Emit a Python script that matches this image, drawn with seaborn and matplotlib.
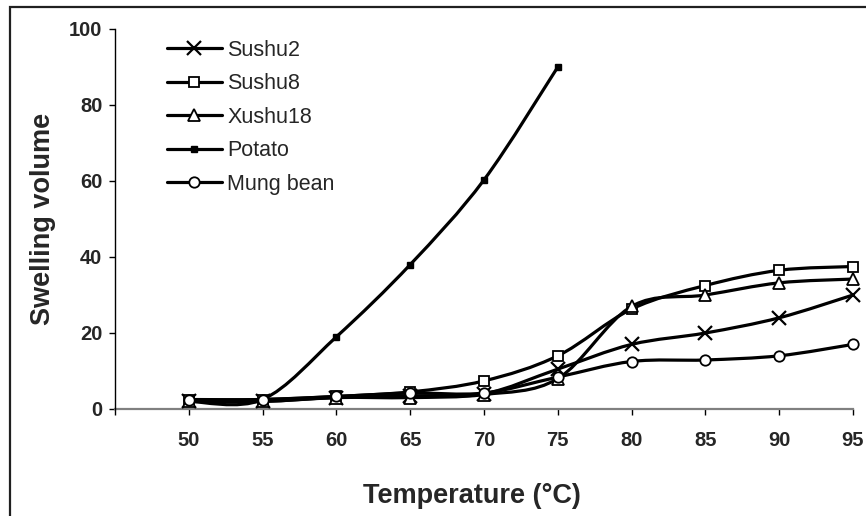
import numpy as np
import pandas as pd
import matplotlib
matplotlib.use("Agg")
import matplotlib.pyplot as plt
from matplotlib.path import Path
from matplotlib.patches import PathPatch, Rectangle
from matplotlib.lines import Line2D
import seaborn as sns

# ---- data ----
temps = [50, 55, 60, 65, 70, 75, 80, 85, 90, 95]
potato_temps = [50, 55, 60, 65, 70, 75]
sushu2 = [2.0, 2.0, 3.0, 3.5, 4.0, 10.5, 17.0, 20.0, 24.0, 30.0]
sushu8 = [2.5, 2.5, 3.3, 4.5, 7.4, 14.0, 26.3, 32.5, 36.5, 37.5]
xushu18 = [2.0, 2.0, 3.0, 3.0, 3.8, 8.0, 27.0, 30.0, 33.2, 34.2]
potato = [2.0, 2.5, 19.0, 38.0, 60.3, 90.0]
mung_bean = [2.3, 2.5, 3.3, 4.2, 4.2, 8.4, 12.5, 12.9, 14.0, 17.0]

series_names = ["Sushu2", "Sushu8", "Xushu18", "Potato", "Mung bean"]
x_ticks = [45, 50, 55, 60, 65, 70, 75, 80, 85, 90, 95]
x_tick_labels = ["", "50", "55", "60", "65", "70", "75", "80", "85", "90", "95"]
y_ticks = [0, 20, 40, 60, 80, 100]

sns.set_theme(style="white")
plt.rcParams["font.family"] = ["Liberation Sans", "DejaVu Sans"]

W, H = 866, 516
fig = plt.figure(figsize=(W / 100, H / 100), dpi=100)
ax = fig.add_axes([115 / W, 1 - 409 / H, (853 - 115) / W, (409 - 29) / H])

def smooth_path(xs, ys):
    """Excel-like smoothed line: cubic Bezier segments (Catmull-Rom tangents)."""
    pts = np.column_stack([xs, ys]).astype(float)
    n = len(pts)
    verts = [pts[0]]
    codes = [Path.MOVETO]
    for i in range(n - 1):
        p0 = pts[i - 1] if i > 0 else pts[i]
        p1 = pts[i]
        p2 = pts[i + 1]
        p3 = pts[i + 2] if i + 2 < n else pts[i + 1]
        c1 = p1 + (p2 - p0) / 6.0
        c2 = p2 - (p3 - p1) / 6.0
        verts += [c1, c2, p2]
        codes += [Path.CURVE4] * 3
    return Path(verts, codes)

styles = {
    "Sushu2": dict(marker="x", ms=10, mfc="black", mec="black", mew=1.6),
    "Sushu8": dict(marker="s", ms=7.5, mfc="white", mec="black", mew=1.3),
    "Xushu18": dict(marker="^", ms=8.5, mfc="white", mec="black", mew=1.3),
    "Potato": dict(marker="s", ms=5, mfc="black", mec="black", mew=1.0),
    "Mung bean": dict(marker="o", ms=7.5, mfc="white", mec="black", mew=1.3),
}
data = {
    "Sushu2": (temps, sushu2),
    "Sushu8": (temps, sushu8),
    "Xushu18": (temps, xushu18),
    "Potato": (potato_temps, potato),
    "Mung bean": (temps, mung_bean),
}

LW = 2.3
z = 2
for name in series_names:
    xs, ys = data[name]
    ax.add_patch(PathPatch(smooth_path(xs, ys), fill=False, edgecolor="black",
                           lw=LW, zorder=z, capstyle="round", joinstyle="round",
                           clip_on=False))
    st = styles[name]
    df = pd.DataFrame({"T": xs, "V": ys})
    sns.lineplot(data=df, x="T", y="V", ax=ax, linestyle="", marker=st["marker"],
                 markersize=st["ms"], markerfacecolor=st["mfc"],
                 markeredgecolor=st["mec"], markeredgewidth=st["mew"],
                 color="black", zorder=z + 0.5, legend=False, clip_on=False)
    z += 1

ax.set_xlim(45, 95)
ax.set_ylim(0, 100)
ax.set_xticks(x_ticks)
ax.set_xticklabels(x_tick_labels)
ax.set_yticks(y_ticks)
ax.tick_params(axis="x", direction="out", length=4, width=1, color="black",
               pad=12, labelsize=14.5, bottom=True)
ax.tick_params(axis="y", direction="out", length=4, width=1, color="black",
               pad=5, labelsize=14.5, left=True)
for lab in ax.get_xticklabels() + ax.get_yticklabels():
    lab.set_fontweight("bold")

for s in ["top", "right"]:
    ax.spines[s].set_visible(False)
ax.spines["left"].set_color("black")
ax.spines["left"].set_linewidth(1.0)
ax.spines["bottom"].set_color("#808080")
ax.spines["bottom"].set_linewidth(1.6)
ax.spines["bottom"].set_zorder(1)

ax.set_xlabel("Temperature (\u00b0C)", fontsize=19.5, fontweight="bold")
ax.set_ylabel("Swelling volume", fontsize=19.5, fontweight="bold")
ax.xaxis.set_label_coords((472 - 115) / 738, (409 - 483) / 380)
ax.yaxis.set_label_coords((56 - 115) / 738, 0.5)

handles = []
for name in series_names:
    st = styles[name]
    handles.append(Line2D([], [], color="black", lw=LW, marker=st["marker"],
                          markersize=st["ms"], markerfacecolor=st["mfc"],
                          markeredgecolor=st["mec"], markeredgewidth=st["mew"]))
leg = ax.legend(handles, series_names, loc="upper left",
                bbox_to_anchor=((167 - 115) / 738, 1 - (40 - 29) / 380),
                frameon=False, fontsize=15.5, handlelength=2.55, handletextpad=0.25,
                labelspacing=0.58, borderaxespad=0, borderpad=0)

# outer chart border (cut off at right and bottom like the reference)
fig.patches.append(Rectangle((10 / W, -0.02), 1.2, 1 - 7 / H + 0.02,
                             transform=fig.transFigure, fill=False,
                             edgecolor="#202020", lw=1.6))

fig.savefig("out.png", dpi=100, facecolor="white")
